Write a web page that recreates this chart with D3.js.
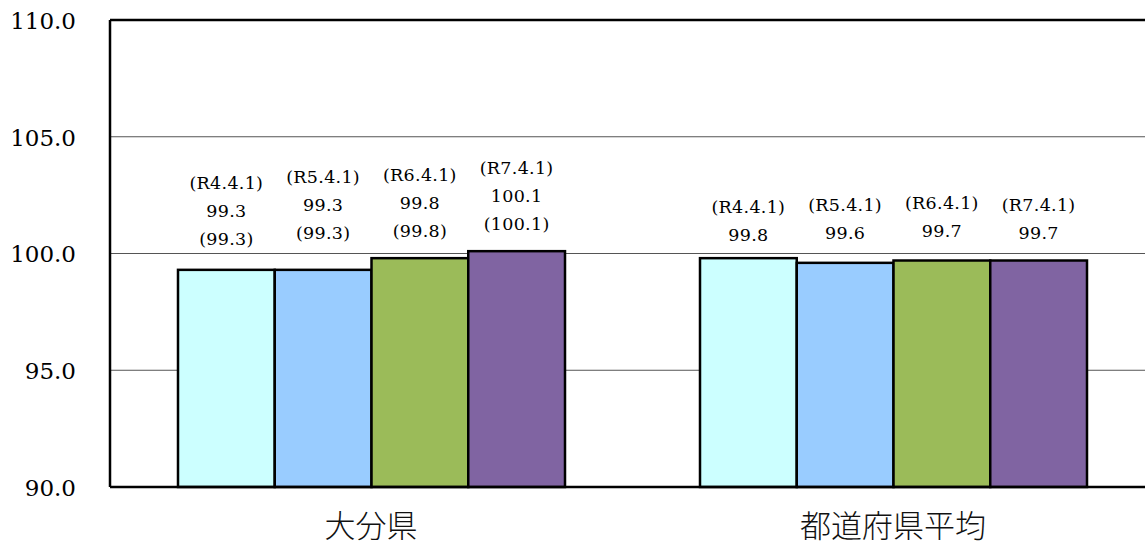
<!DOCTYPE html>
<html><head><meta charset="utf-8">
<script src="https://cdn.jsdelivr.net/npm/d3@7/dist/d3.min.js"></script>
<style>
html,body{margin:0;padding:0;background:#fff;}
svg{display:block;}
.serif{font-family:"DejaVu Serif",serif;}
.cjk{font-family:"Noto Sans CJK JP","Noto Sans CJK SC",sans-serif;}
</style></head>
<body><svg id="c" width="1145" height="546"></svg>
<script>
const categories = ["大分県", "都道府県平均"];
const seriesNames = ["(R4.4.1)", "(R5.4.1)", "(R6.4.1)", "(R7.4.1)"];
const oitaValues = [99.3, 99.3, 99.8, 100.1];
const oitaParen = ["(99.3)", "(99.3)", "(99.8)", "(100.1)"];
const nationalValues = [99.8, 99.6, 99.7, 99.7];
const yTicks = [90, 95, 100, 105, 110];
const colors = ["#CCFFFF", "#99CCFF", "#9BBB59", "#8064A2"];

// label first-line centre (px) per bar, as placed in the original
const labelTop = [[183, 177, 175, 168], [207, 205, 203, 205]];

const svg = d3.select("#c");
const L = 110, R = 1154, T = 20, B = 487;
const y = d3.scaleLinear().domain([90, 110]).range([B, T]);
const x0 = d3.scaleBand().domain(categories).range([L, R]);
const x1 = d3.scaleBand().domain(seriesNames).range([68, 455]);

const data = categories.map((c, ci) => ({
  cat: c,
  bars: seriesNames.map((s, si) => ({
    s, si, ci,
    v: ci === 0 ? oitaValues[si] : nationalValues[si],
    lines: ci === 0 ? [s, d3.format(".1f")(oitaValues[si]), oitaParen[si]]
                    : [s, d3.format(".1f")(nationalValues[si])]
  }))
}));

// gridlines
svg.append("g").selectAll("line").data(yTicks.filter(t => t > 90 && t < 110)).join("line")
  .attr("x1", L).attr("x2", 1145).attr("y1", d => y(d)).attr("y2", d => y(d))
  .attr("stroke", "#555").attr("stroke-width", 1);

// y axis labels
const yAxis = d3.axisLeft(y).tickValues(yTicks).tickFormat(d3.format(".1f")).tickSize(0).tickPadding(34);
const ga = svg.append("g").attr("transform", `translate(${L},0)`).call(yAxis);
ga.select(".domain").remove();
ga.attr("font-family", null).attr("font-size", null);
ga.selectAll("text").attr("class", "serif")
  .style("font-size", "23px").attr("fill", "#000").attr("dy", "0.36em");

// bars
const g = svg.append("g").selectAll("g").data(data).join("g")
  .attr("transform", d => `translate(${x0(d.cat)},0)`);
g.selectAll("rect").data(d => d.bars).join("rect")
  .attr("x", d => x1(d.s)).attr("width", x1.bandwidth())
  .attr("y", d => y(d.v)).attr("height", d => y(90) - y(d.v))
  .attr("fill", d => colors[d.si]).attr("stroke", "#000").attr("stroke-width", 2.5);

// value labels
g.selectAll("g.lab").data(d => d.bars).join("g").attr("class", "lab")
  .each(function(d) {
    const cx = x1(d.s) + x1.bandwidth() / 2;
    d3.select(this).selectAll("text").data(d.lines).join("text")
      .attr("class", "serif")
      .attr("x", cx).attr("y", (t, i) => labelTop[d.ci][d.si] + i * 28)
      .attr("dy", "0.35em").attr("text-anchor", "middle")
      .style("font-size", "17.5px").style("letter-spacing", "0.3px").attr("fill", "#000")
      .text(t => t);
  });

// frame
svg.append("line").attr("x1", L).attr("x2", 1145).attr("y1", T).attr("y2", T).attr("stroke", "#000").attr("stroke-width", 2.5);
svg.append("line").attr("x1", L).attr("x2", 1145).attr("y1", B).attr("y2", B).attr("stroke", "#000").attr("stroke-width", 2.5);
svg.append("line").attr("x1", L).attr("x2", L).attr("y1", T).attr("y2", B).attr("stroke", "#000").attr("stroke-width", 2.5);

// category labels
svg.append("g").selectAll("text").data(categories).join("text")
  .attr("class", "cjk")
  .attr("x", d => x0(d) + x0.bandwidth() / 2).attr("y", 526).attr("dy", "0.35em")
  .attr("text-anchor", "middle").style("font-size", "31px").style("font-weight", "300")
  .attr("fill", "#111").text(d => d);
</script></body></html>
